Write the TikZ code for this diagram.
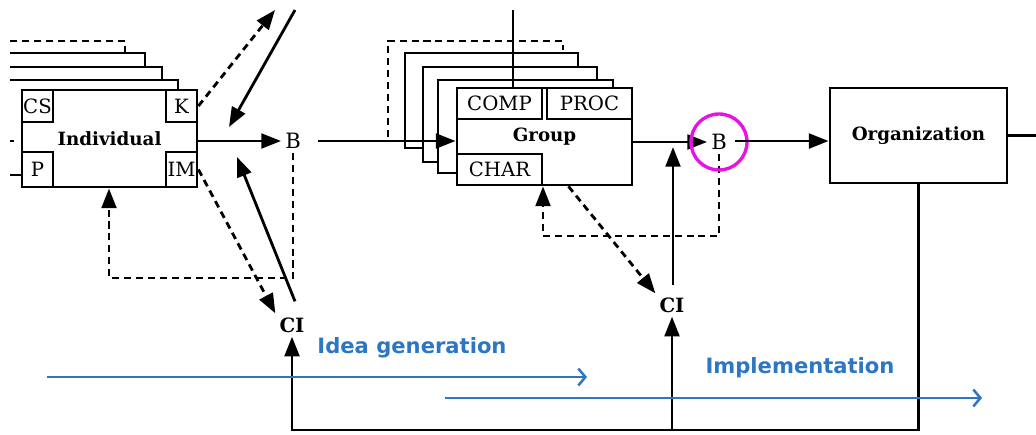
\documentclass[tikz,border=0pt]{standalone}
\usepackage{fontspec}
\setmainfont{DejaVu Serif}
\newfontfamily\phasefont{DejaVu Sans}
\usetikzlibrary{arrows.meta,calc,positioning}
\definecolor{phaseblue}{RGB}{45,118,196}
\definecolor{ringpink}{RGB}{228,20,228}

\begin{document}
\begin{tikzpicture}[>={Triangle[length=14pt,width=10.5pt]}, x=0.025cm, y=-0.025cm, line width=2pt,
  unitbox/.style={draw, fill=white, inner sep=0pt, minimum width=4.375cm, minimum height=2.425cm,
    font=\fontsize{13}{15}\selectfont\bfseries},
  tagbox/.style={draw, fill=white, inner sep=0pt, minimum width=0.775cm, minimum height=0.8cm,
    font=\fontsize{14}{15}\selectfont},
  widetag/.style={tagbox, minimum width=2.125cm, minimum height=0.775cm},
  letter/.style={inner sep=2pt, font=\fontsize{15}{16}\selectfont},
  feedback/.style={dash pattern=on 5pt off 3.5pt},
  phasearrow/.style={phaseblue, line width=1.8pt, -{Straight Barb[length=5pt,width=12pt]}},
  phaselabel/.style={text=phaseblue, font=\phasefont\fontsize{15}{18}\selectfont\bfseries}]
  \useasboundingbox (0,0) rectangle (1036,434);
  \clip (0,0) rectangle (1036,434);

  % Individual stack
  \draw[feedback] (10,41) -| (125,53);
  \draw (10,53) -| (145,67);
  \draw (10,67) -| (162,80);
  \draw (10,80) -| (178,90);
  \node[unitbox] (ind) at (109.5,138.5) {Individual};
  \node[tagbox, anchor=north west] (cs) at (ind.north west) {CS};
  \node[tagbox, anchor=north east] (k) at (ind.north east) {K};
  \node[tagbox, anchor=south west, minimum height=0.875cm] (p) at (ind.south west) {P};
  \node[tagbox, anchor=south east, minimum height=0.875cm] (im) at (ind.south east) {IM};
  \coordinate (inP) at (10,175);
  \coordinate (inI) at (10,141);
  \draw (inP) -- (inP -| ind.west);
  \draw (inI) -- ++(4,0);

  % Group stack
  \draw[feedback] (388,137) |- (563,41) -- (563,50);
  \draw[fill=white] (405,53) rectangle (578,148);
  \draw[fill=white] (423,67) rectangle (597,162);
  \draw[fill=white] (438,80) rectangle (613,173);
  \node[unitbox] (grp) at (544.5,136.5) {Group};
  \node[widetag, anchor=north west] (comp) at (grp.north west) {COMP};
  \node[widetag, anchor=north east] (proc) at (grp.north east) {PROC};
  \node[widetag, anchor=south west] (char) at (grp.south west) {CHAR};
  \coordinate (topG) at (513,10);
  \draw (topG) -- (topG |- comp.north);

  % Organization
  \node[unitbox, minimum width=4.425cm, minimum height=2.375cm] (org) at (918.5,135.5) {Organization};
  \coordinate (orgOut) at (1036,136);
  \draw (org.east) -- (org.east -| orgOut);

  % Behaviour and climate
  \node[letter] (b1) at (293,141) {B};
  \node[letter, font=\fontsize{14}{15}\selectfont\bfseries] (ci1) at (292,325) {CI};
  \node[letter] (b2) at (719,142) {B};
  \node[letter, font=\fontsize{14}{15}\selectfont\bfseries] (ci2) at (672,305) {CI};

  % Individual links
  \coordinate (topA) at (295,10);
  \coordinate (kIn) at (229,127);
  \coordinate (kOut) at (275,10);
  \coordinate (imIn) at (237,157);
  \coordinate (indLoop) at (109,278);
  \draw[->] (ind.east |- b1) -- (b1.west);
  \draw[->] (topA) -- (kIn);
  \draw[feedback,->] (k.east) -- (kOut);
  \draw[feedback,->] (im.east) -- (ci1.north west);
  \draw[->] ([shift={(3,-12)}]ci1.north) -- (imIn);
  \draw[feedback,->] (b1.south) |- (indLoop) -- (indLoop |- ind.south);

  % Group links
  \coordinate (b1Out) at (318,141);
  \coordinate (b2In) at (673,147);
  \coordinate (grpLoop) at (543,236);
  \draw[->] (b1Out) -- (b1Out -| grp.west);
  \draw[->] (grp.east |- b2) -- (b2.west);
  \draw[->] ([shift={(1,-8)}]ci2.north) -- (b2In);
  \draw[feedback,->] (b2.south) |- (grpLoop) -- (grpLoop |- grp.south);
  \draw[feedback,->] ($(grp.south)+(24,0)$) -- (ci2.north west);
  \draw[ringpink, line width=2.4pt] (b2) circle (0.7cm);

  % Organization links
  \coordinate (b2Out) at (735,141);
  \coordinate (base) at (0,430);
  \draw[->] (b2Out) -- (b2Out -| org.west);
  \draw[->] (org.south) |- (ci1 |- base) -- (ci1.south);
  \draw[->] (ci2 |- base) -- (ci2.south);

  % Phases
  \coordinate (ideaStart) at (47,377);
  \coordinate (ideaEnd) at (587,377);
  \coordinate (implStart) at (445,398);
  \coordinate (implEnd) at (982,398);
  \draw[phasearrow] (ideaStart) -- (ideaEnd);
  \draw[phasearrow] (implStart) -- (implEnd);
  \node[phaselabel] (idea) at (412,348) {Idea generation};
  \node[phaselabel] (impl) at (800,368) {Implementation};
\end{tikzpicture}
\end{document}
